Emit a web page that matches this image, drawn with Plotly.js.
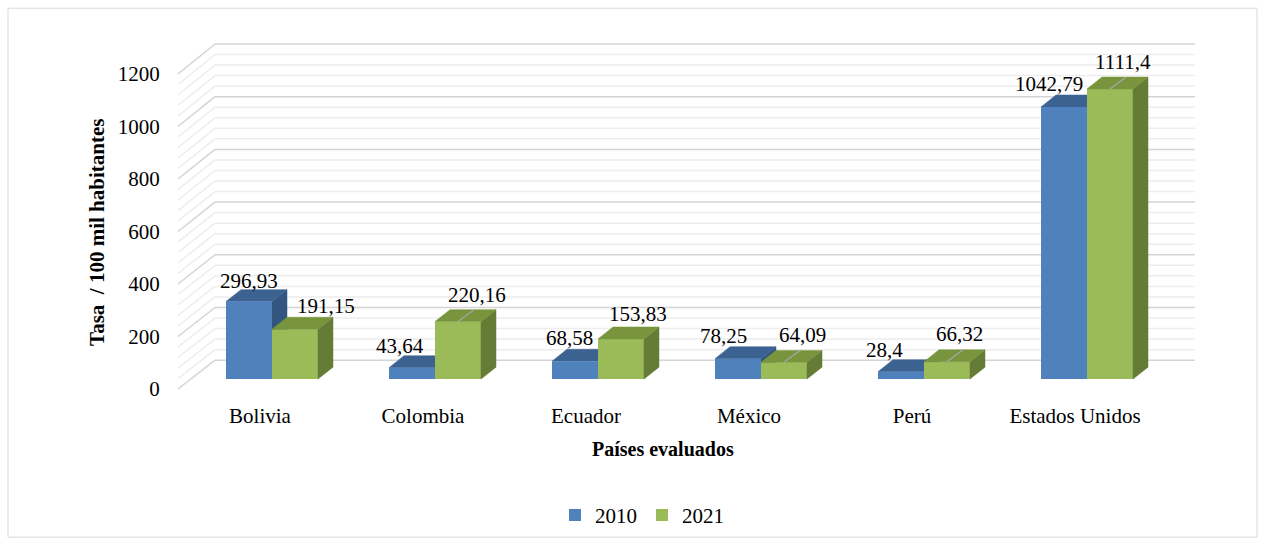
<!DOCTYPE html>
<html>
<head>
<meta charset="utf-8">
<script src="https://cdn.plot.ly/plotly-3.0.1.min.js"></script>
<style>html,body{margin:0;padding:0;background:#fff;}#chart{width:1265px;height:548px;}</style>
</head>
<body>
<div id="chart"></div>
<script>
// ---- data ----
const categories = ['Bolivia', 'Colombia', 'Ecuador', 'México', 'Perú', 'Estados Unidos'];
const seriesNames = ['2010', '2021'];
const values2010 = [296.93, 43.64, 68.58, 78.25, 28.4, 1042.79];
const values2021 = [191.15, 220.16, 153.83, 64.09, 66.32, 1111.4];
const yTickValues = [0, 200, 400, 600, 800, 1000, 1200];
const minorStep = 40;
const yTitle = 'Tasa\u00A0 / 100 mil habitantes';
const xTitle = 'Países evaluados';

// ---- layout geometry (pixels) ----
const W = 1265, H = 548;
const plotL = 178, plotR = 1195, plotT = 44, plotB = 391;
const catPx0 = 272, catStep = 163, catLabelShift = -12;
const barZeroPx = 381, pxPerUnit = 0.2625;
const labelZeroPx = 391, labelPxPerUnit = 0.264;
const wallZeroPx = 362, wallPxPerUnit = 0.265, wallL = 215, wallR = 1195;
const depthDx = 15, depthDy = 12;
const barW = 46 / catStep;

const colors = {
  blue: '#4F81BD', blueTop: '#3C6291', blueSide: '#33557F',
  green: '#9BBB59', greenTop: '#78953D', greenSide: '#647C35'
};
const serif = '"Liberation Serif", "Times New Roman", serif';

const xp = px => (px - plotL) / (plotR - plotL);
const yp = py => (plotB - py) / (plotB - plotT);
const idx = categories.map((_, i) => i);
const fmt = v => String(v).replace('.', ',');

// label offsets (pixels: right, up) and leader flags
const blueOff = [[0, 21], [-12, 21.5], [-6, 23], [-14.5, 23], [-17, 21.5], [-15, 23]];
const greenOff = [[31, 23], [19, 27], [17, 24.6], [18, 27], [12, 27.6], [13, 27]];
const greenLeader = [false, true, false, true, true, true];

const traces = [
  {type: 'bar', name: seriesNames[0], x: idx, y: values2010,
   marker: {color: colors.blue, line: {width: 0}}, hoverinfo: 'skip'},
  {type: 'bar', name: seriesNames[1], x: idx, y: values2021,
   marker: {color: colors.green, line: {width: 0}}, hoverinfo: 'skip'},
  {type: 'scatter', x: [], y: [], xaxis: 'x2', yaxis: 'y2', showlegend: false, hoverinfo: 'skip'}
];

const shapes = [];
// outer border
shapes.push({type: 'rect', xref: 'paper', yref: 'paper', x0: xp(8), x1: xp(1257), y0: yp(8), y1: yp(540),
  line: {color: '#D9D9D9', width: 1}, layer: 'below'});
// walls grid
for (let v = 0; v <= yTickValues[yTickValues.length - 1]; v += minorStep) {
  const major = yTickValues.includes(v);
  const by = wallZeroPx - v * wallPxPerUnit;
  const fy = labelZeroPx - v * labelPxPerUnit;
  const line = {color: major ? '#D4D4D4' : '#EDEDED', width: 1.5};
  shapes.push({type: 'line', xref: 'paper', yref: 'paper', x0: xp(wallL), x1: xp(wallR), y0: yp(by), y1: yp(by), line, layer: 'below'});
  shapes.push({type: 'line', xref: 'paper', yref: 'paper', x0: xp(plotL), x1: xp(wallL), y0: yp(fy), y1: yp(by), line, layer: 'below'});
}
// 3D faces
const dxU = depthDx / catStep, dyU = depthDy / pxPerUnit;
function faces(xl, xr, v, topC, sideC, layer) {
  shapes.push({type: 'path', xref: 'x', yref: 'y', layer,
    path: `M${xr},0 L${xr},${v} L${xr + dxU},${v + dyU} L${xr + dxU},${dyU} Z`,
    fillcolor: sideC, line: {color: sideC, width: 0.5}});
  shapes.push({type: 'path', xref: 'x', yref: 'y', layer,
    path: `M${xl},${v} L${xr},${v} L${xr + dxU},${v + dyU} L${xl + dxU},${v + dyU} Z`,
    fillcolor: topC, line: {color: topC, width: 0.5}});
}
idx.forEach(i => {
  faces(i - barW, i, values2010[i], colors.blueTop, colors.blueSide, 'between');
  faces(i, i + barW, values2021[i], colors.greenTop, colors.greenSide, 'above');
  if (greenLeader[i]) {
    shapes.push({type: 'line', xref: 'x', yref: 'y', layer: 'above',
      x0: i + barW / 2, y0: values2021[i], x1: i + barW / 2 + 16 / catStep, y1: values2021[i] + 12 / pxPerUnit,
      line: {color: '#A6A6A6', width: 1.3}});
  }
});

const annotations = [];
idx.forEach(i => {
  annotations.push({xref: 'x', yref: 'y', x: i - barW / 2, y: values2010[i], text: fmt(values2010[i]),
    xanchor: 'center', yanchor: 'middle',
    showarrow: false, xshift: blueOff[i][0], yshift: blueOff[i][1], font: {family: serif, size: 21, color: '#000'}});
  annotations.push({xref: 'x', yref: 'y', x: i + barW / 2, y: values2021[i], text: fmt(values2021[i]),
    xanchor: 'center', yanchor: 'middle',
    showarrow: false, xshift: greenOff[i][0], yshift: greenOff[i][1], font: {family: serif, size: 21, color: '#000'}});
});
annotations.push({xref: 'paper', yref: 'paper', x: xp(97), y: yp(234), text: '<b>' + yTitle + '</b>', textangle: -90,
  xanchor: 'center', yanchor: 'middle',
  showarrow: false, font: {family: serif, size: 21, color: '#000'}});
annotations.push({xref: 'paper', yref: 'paper', x: xp(663), y: yp(451), text: '<b>' + xTitle + '</b>',
  xanchor: 'center', yanchor: 'middle',
  showarrow: false, font: {family: serif, size: 20, color: '#000'}});

const layout = {
  width: W, height: H, autosize: false,
  margin: {l: plotL, r: W - plotR, t: plotT, b: H - plotB, pad: 0},
  paper_bgcolor: '#fff', plot_bgcolor: 'rgba(0,0,0,0)',
  barmode: 'group', bargap: 1 - 2 * barW, bargroupgap: 0,
  showlegend: true,
  legend: {orientation: 'h', x: xp(642), xanchor: 'center', y: yp(518), yanchor: 'middle',
    font: {family: serif, size: 21, color: '#000'}, itemwidth: 30, bgcolor: 'rgba(0,0,0,0)'},
  xaxis: {visible: false, range: [(plotL - catPx0) / catStep, (plotR - catPx0) / catStep], fixedrange: true},
  yaxis: {visible: false, range: [(barZeroPx - plotB) / pxPerUnit, (barZeroPx - plotT) / pxPerUnit], fixedrange: true},
  xaxis2: {overlaying: 'x', anchor: 'y2', side: 'bottom',
    range: [(plotL - catPx0 - catLabelShift) / catStep, (plotR - catPx0 - catLabelShift) / catStep],
    tickmode: 'array', tickvals: idx, ticktext: categories,
    ticks: 'outside', ticklen: 8, tickcolor: 'rgba(0,0,0,0)',
    showgrid: false, zeroline: false, showline: false,
    tickfont: {family: serif, size: 21, color: '#000'}},
  yaxis2: {overlaying: 'y', anchor: 'x2', side: 'left',
    range: [(labelZeroPx - plotB) / labelPxPerUnit, (labelZeroPx - plotT) / labelPxPerUnit],
    tickmode: 'array', tickvals: yTickValues,
    ticks: 'outside', ticklen: 13, tickcolor: 'rgba(0,0,0,0)',
    showgrid: false, zeroline: false, showline: false,
    tickfont: {family: serif, size: 21, color: '#000'}},
  shapes, annotations
};

Plotly.newPlot('chart', traces, layout, {displayModeBar: false, staticPlot: true});
</script>
</body>
</html>
